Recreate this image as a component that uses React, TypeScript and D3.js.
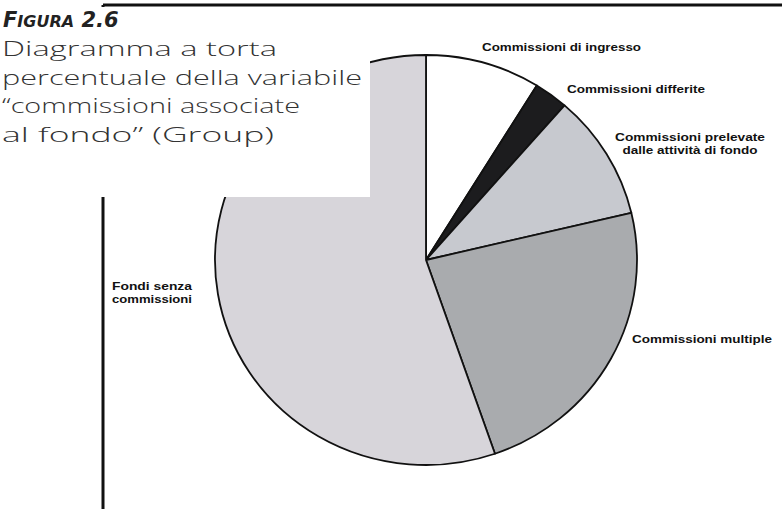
import React from "react";
import * as d3 from "d3";

const categories = [
  "Commissioni di ingresso",
  "Commissioni differite",
  "Commissioni prelevate dalle attività di fondo",
  "Commissioni multiple",
  "Fondi senza commissioni",
];
const shares = [8.8, 2.6, 9.9, 23.4, 55.3];
const sliceColors = ["#ffffff", "#1c1c1e", "#c7c9cf", "#a9abae", "#d7d5da"];

const titleLines = [
  "Diagramma a torta",
  "percentuale della variabile",
  "\u201Ccommissioni associate",
  "al fondo\u201D (Group)",
];

type Label = { lines: string[]; x: number; y: number; widths: number[]; anchor: string };
const labels: Label[] = [
  { lines: ["Commissioni di ingresso"], x: 482, y: 51, widths: [159], anchor: "start" },
  { lines: ["Commissioni differite"], x: 567, y: 93, widths: [138], anchor: "start" },
  { lines: ["Commissioni prelevate", "dalle attività di fondo"], x: 690, y: 141, widths: [150, 135], anchor: "middle" },
  { lines: ["Commissioni multiple"], x: 632, y: 343, widths: [140], anchor: "start" },
  { lines: ["Fondi senza", "commissioni"], x: 112, y: 290, widths: [80, 80], anchor: "start" },
];

const W = 782;
const H = 509;
const cx = 426;
const cy = 260;
const rx = 211;
const ry = 205;

export default function App() {
  const pie = d3.pie<number>().sort(null).value((d) => d);
  const arcs = pie(shares);
  const arc = d3.arc<d3.PieArcDatum<number>>().innerRadius(0).outerRadius(rx);

  return (
    <svg
      width={W}
      height={H}
      style={{ position: "absolute", left: 0, top: 0, background: "#fff" }}
    >
      <rect x={0} y={0} width={W} height={H} fill="#fff" />
      {/* frame */}
      <line x1={103} y1={5} x2={W} y2={5} stroke="#111" strokeWidth={3} />
      <line x1={103} y1={5} x2={103} y2={H} stroke="#111" strokeWidth={3} />

      {/* pie */}
      <g transform={`translate(${cx},${cy}) scale(1,${ry / rx})`}>
        {arcs.map((a, i) => (
          <path
            key={categories[i]}
            d={arc(a) || ""}
            fill={sliceColors[i]}
            stroke="#111"
            strokeWidth={1.8}
            strokeLinejoin="round"
            style={{ vectorEffect: "non-scaling-stroke" } as any}
          />
        ))}
      </g>

      {/* slice labels */}
      {labels.map((l, i) => (
        <text
          key={i}
          fontFamily="'Liberation Sans', Arial, sans-serif"
          fontWeight="bold"
          fontSize={10.5}
          fill="#111"
          textAnchor={l.anchor}
        >
          {l.lines.map((ln, j) => (
            <tspan
              key={j}
              x={l.x}
              y={l.y + j * 13}
              textLength={l.widths[j]}
              lengthAdjust="spacingAndGlyphs"
            >
              {ln}
            </tspan>
          ))}
        </text>
      ))}

      {/* title box */}
      <rect x={0} y={7} width={370} height={190} fill="#fff" />
      <text
        x={3}
        y={27}
        fontFamily="'DejaVu Sans', sans-serif"
        fontWeight="bold"
        fontStyle="italic"
        fill="#222"
      >
        <tspan fontSize={21}>F</tspan>
        <tspan fontSize={16}>IGURA</tspan>
        <tspan fontSize={21}> 2.6</tspan>
      </text>
      {titleLines.map((t, i) => (
        <text
          key={t}
          x={2}
          y={56 + i * 28.5}
          fontFamily="'Open Sans', 'Noto Sans', sans-serif"
          fontWeight={300}
          fontSize={21}
          fill="#333"
          textLength={[275, 360, 298, 272][i]}
          lengthAdjust="spacingAndGlyphs"
        >
          {t}
        </text>
      ))}
    </svg>
  );
}
